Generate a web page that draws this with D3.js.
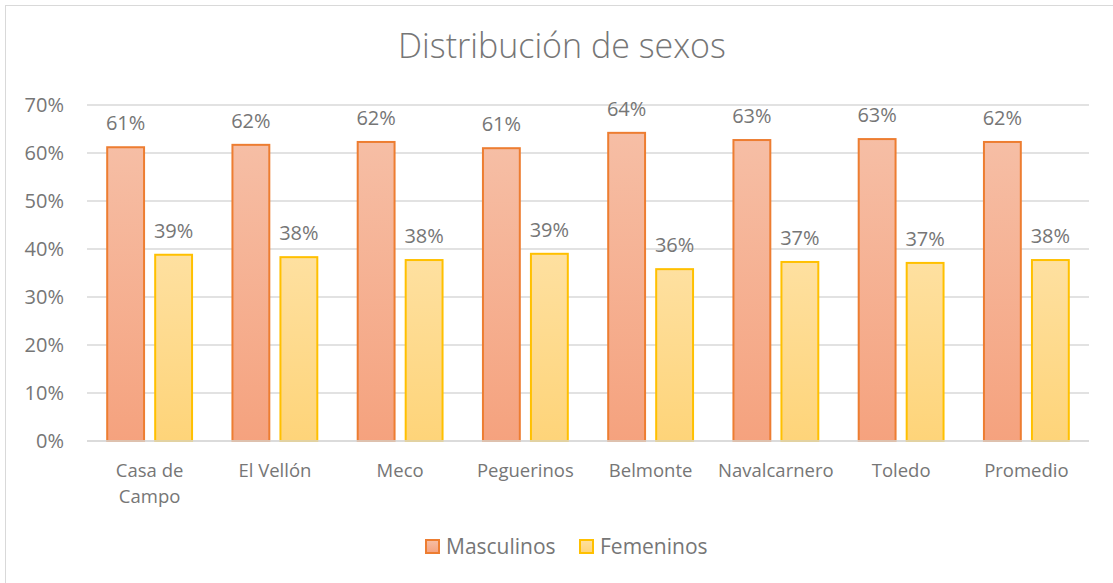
<!DOCTYPE html>
<html>
<head>
<meta charset="utf-8">
<script src="https://cdn.jsdelivr.net/npm/d3@7"></script>
<style>
  body { margin: 0; background: #fff; }
  svg text { font-family: "Open Sans", Lato, sans-serif; fill: #767676; }
</style>
</head>
<body>
<svg width="1113" height="583"></svg>
<script>
const categories = [["Casa de", "Campo"], ["El Vellón"], ["Meco"], ["Peguerinos"], ["Belmonte"], ["Navalcarnero"], ["Toledo"], ["Promedio"]];
const masculinos = [61.2, 61.7, 62.3, 61.0, 64.2, 62.7, 62.9, 62.3];
const femeninos = [38.8, 38.3, 37.7, 39.0, 35.8, 37.3, 37.1, 37.7];
const seriesNames = ["Masculinos", "Femeninos"];
const yTicks = [0, 10, 20, 30, 40, 50, 60, 70];

const svg = d3.select("svg");
const W = 1113, H = 583;
const margin = {left: 87, right: 24, top: 105, bottom: 142};

// marco
svg.append("rect").attr("x", 5.5).attr("y", 5.5).attr("width", W).attr("height", H - 1)
  .attr("fill", "none").attr("stroke", "#d9d9d9").attr("stroke-width", 1);

const defs = svg.append("defs");
const grads = [["gM", "#f6bea5", "#f5a27e"], ["gF", "#fee0a0", "#fed479"]];
grads.forEach(([id, c1, c2]) => {
  const g = defs.append("linearGradient").attr("id", id).attr("x1", 0).attr("y1", 0).attr("x2", 0).attr("y2", 1);
  g.append("stop").attr("offset", 0).attr("stop-color", c1);
  g.append("stop").attr("offset", 1).attr("stop-color", c2);
});
const fills = ["url(#gM)", "url(#gF)"];
const strokes = ["#ed7d31", "#ffc000"];

svg.append("text").attr("x", 562).attr("y", 58).attr("text-anchor", "middle")
  .style("font-size", "34px").style("font-weight", 300).text("Distribución de sexos");

const x = d3.scaleBand().domain(d3.range(categories.length)).range([margin.left, W - margin.right]);
const x1 = d3.scaleBand().domain([0, 1]).range([0, x.bandwidth()]).paddingInner(0.19).paddingOuter(0.4);
const y = d3.scaleLinear().domain([0, 70]).range([H - margin.bottom, margin.top]);

svg.append("g").selectAll("line").data(yTicks).join("line")
  .attr("x1", margin.left).attr("x2", W - margin.right)
  .attr("y1", d => y(d)).attr("y2", d => y(d))
  .attr("stroke", "#d9d9d9").attr("stroke-width", 1.5);

svg.append("g").selectAll("text").data(yTicks).join("text")
  .attr("x", 64).attr("y", d => y(d) + 7).attr("text-anchor", "end")
  .style("font-size", "20px").text(d => d + "%");

const data = categories.map((c, i) => [masculinos[i], femeninos[i]]);
const groups = svg.append("g").selectAll("g").data(data).join("g")
  .attr("transform", (d, i) => `translate(${x(i)},0)`);

groups.selectAll("rect").data(d => d.map((v, s) => ({v, s}))).join("rect")
  .attr("x", d => x1(d.s) + 1).attr("width", x1.bandwidth() - 2)
  .attr("y", d => y(d.v)).attr("height", d => y(0) - y(d.v))
  .attr("fill", d => fills[d.s]).attr("stroke", d => strokes[d.s]).attr("stroke-width", 2);

groups.selectAll("text.lbl").data(d => d.map((v, s) => ({v, s}))).join("text")
  .attr("class", "lbl")
  .attr("x", d => x1(d.s) + x1.bandwidth() / 2).attr("y", d => y(d.v) - 17)
  .attr("text-anchor", "middle").style("font-size", "20px")
  .text(d => Math.round(d.v) + "%");

// eje x
svg.append("line").attr("x1", margin.left).attr("x2", W - margin.right)
  .attr("y1", y(0)).attr("y2", y(0)).attr("stroke", "#d9d9d9").attr("stroke-width", 1.5);

const cat = svg.append("g").selectAll("text").data(categories).join("text")
  .attr("x", (d, i) => x(i) + x.bandwidth() / 2).attr("y", 477)
  .attr("text-anchor", "middle").style("font-size", "18.5px");
cat.selectAll("tspan").data(d => d).join("tspan")
  .attr("x", function () { return d3.select(this.parentNode).attr("x"); })
  .attr("dy", (d, i) => i === 0 ? 0 : 26).text(d => d);

// leyenda
const legX = [426, 580];
const leg = svg.append("g").selectAll("g").data(seriesNames).join("g")
  .attr("transform", (d, i) => `translate(${legX[i]},540)`);
leg.append("rect").attr("width", 13).attr("height", 13)
  .attr("fill", (d, i) => fills[i]).attr("stroke", (d, i) => strokes[i]).attr("stroke-width", 2);
leg.append("text").attr("x", 20).attr("y", 14).style("font-size", "21px").text(d => d);
</script>
</body>
</html>
